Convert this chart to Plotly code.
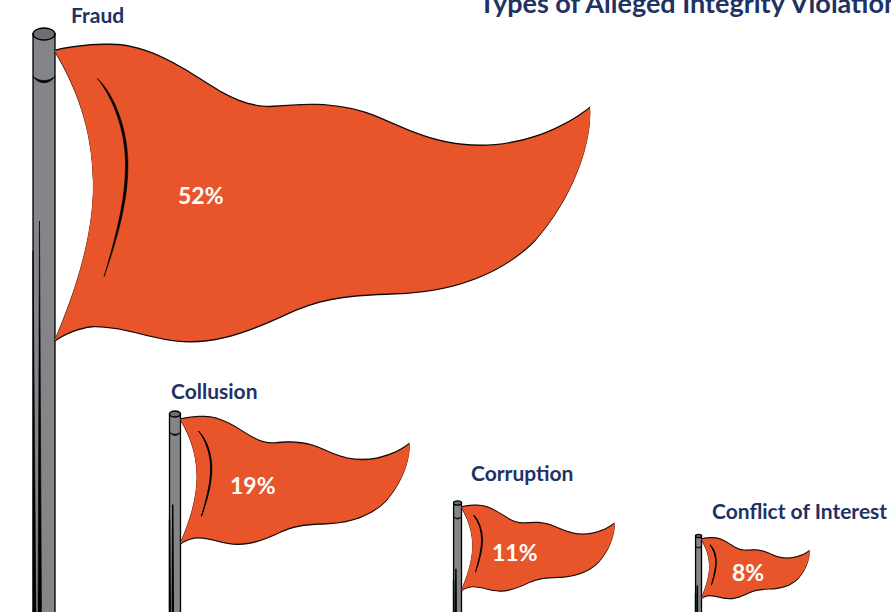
import plotly.graph_objects as go

# --- data ---
categories = ["Fraud", "Collusion", "Corruption", "Conflict of Interest"]
shares = [52, 19, 11, 8]
title_text = "Types of Alleged Integrity Violations"

# --- layout of each flag (attachment point on the pole, scales) ---
anchor_x = [55, 180.5, 461.5, 701.5]
anchor_y = [51, 419.5, 507.5, 539.5]
flag_scale = [1.0, 0.428, 0.286, 0.202]
pole_scale = [1.0, 0.50, 0.36, 0.27]
cap_offset = [17, 5.5, 4.5, 3.5]
stroke = [0.8, 0.8, 0.8, 0.8]
edge = [1.4, 1.3, 1.2, 1.2]
crease_line = [0.5, 1.0, 1.1, 1.1]
pole_dark_line = [0.6, 1.4, 1.5, 1.5]
label_x = [68.5, 168.5, 468.5, 709.5]
label_y = [14.5, 390.5, 472.5, 510.5]
pct_x = [200.5, 252.5, 514.5, 747.5]
pct_y = [194.5, 484.5, 551.5, 571.5]
pct_size = [23, 23, 23, 23]

ORANGE = "#E9552B"
NAVY = "#1F3264"
GREY = "#848588"

# glyph outline of the flag, relative to attachment point, unit = full-size flag
FLAG = [("M", [(0, 0)]),
        ("C", [(20, -5), (40, -6), (55, -6)]),
        ("C", [(95, -6), (130, 19), (165, 41)]),
        ("C", [(185, 52), (200, 57), (220, 56)]),
        ("C", [(245, 54), (275, 51), (310, 62)]),
        ("C", [(345, 74), (375, 95), (425, 95)]),
        ("C", [(470, 95), (510, 77), (535, 57)]),
        ("C", [(537, 89), (520, 144), (480, 189)]),
        ("C", [(440, 229), (385, 241), (340, 242)]),
        ("C", [(290, 244), (270, 246), (235, 261)]),
        ("C", [(200, 277), (170, 290), (135, 290)]),
        ("C", [(100, 290), (70, 274), (37, 275)]),
        ("C", [(25, 276), (10, 282), (0, 289)]),
        ("C", [(15, 254), (40, 189), (38, 129)]),
        ("C", [(37, 74), (20, 34), (0, 0)]),
        ("Z", [])]
CREASE = [("M", [(42, 27)]),
          ("C", [(60, 44), (73, 79), (73, 114)]),
          ("C", [(73, 154), (60, 194), (49, 226)]),
          ("C", [(58, 194), (70.5, 154), (70.5, 114)]),
          ("C", [(70.5, 79), (58, 47), (42, 27)]),
          ("Z", [])]
POLE_DARK = [("M", [(-15.5, 170)]),
             ("L", [(-13.5, 570)]),
             ("L", [(-17, 570)]),
             ("Z", [])]
POLE_EDGE = [("M", [(-22, 200)]),
             ("L", [(-22, 570)]),
             ("L", [(-19, 570)]),
             ("Z", [])]
BAND = [("M", [(-22, 25)]),
        ("C", [(-17, 31), (-5, 31), (0, 25)]),
        ("C", [(-5, 34), (-17, 34), (-22, 25)]),
        ("Z", [])]


def path(glyph, ax, ay, s):
    parts = []
    for cmd, pts in glyph:
        parts.append(cmd + " ".join(f"{ax + px * s:.2f},{ay + py * s:.2f}" for px, py in pts))
    return " ".join(parts)


shapes = []
annotations = []
for i, cat in enumerate(categories):
    ax, ay = anchor_x[i], anchor_y[i]
    fs, ps, w = flag_scale[i], pole_scale[i], stroke[i]
    left = ax - 22 * ps
    top = ay - cap_offset[i]
    bottom = 640
    # pole
    shapes.append(dict(type="rect", xref="x", yref="y", x0=left, x1=ax, y0=top, y1=bottom,
                       fillcolor=GREY, line=dict(color="black", width=1.3), layer="above"))
    shapes.append(dict(type="path", xref="x", yref="y", path=path(POLE_DARK, ax, ay, ps),
                       fillcolor="black", line=dict(color="black", width=pole_dark_line[i]), layer="above"))
    shapes.append(dict(type="path", xref="x", yref="y", path=path(POLE_EDGE, ax, ay, ps),
                       fillcolor="black", line=dict(color="black", width=pole_dark_line[i]), layer="above"))
    shapes.append(dict(type="path", xref="x", yref="y", path=path(BAND, ax, ay, ps),
                       fillcolor="black", line=dict(color="black", width=0.6), layer="above"))
    shapes.append(dict(type="circle", xref="x", yref="y", x0=left, x1=ax,
                       y0=top - 6 * ps, y1=top + 6 * ps,
                       fillcolor="#6D6E71", line=dict(color="black", width=1.4), layer="above"))
    # flag: black copies nudged up and down give the uneven ink line
    for dy in (-edge[i], edge[i]):
        shapes.append(dict(type="path", xref="x", yref="y", path=path(FLAG, ax, ay + dy, fs),
                           fillcolor="black", line=dict(width=0), layer="above"))
    shapes.append(dict(type="path", xref="x", yref="y", path=path(FLAG, ax, ay, fs),
                       fillcolor=ORANGE, line=dict(color=ORANGE, width=0.3), layer="above"))
    shapes.append(dict(type="path", xref="x", yref="y", path=path(CREASE, ax, ay, fs),
                       fillcolor="black", line=dict(color="black", width=crease_line[i]), layer="above"))
    annotations.append(dict(x=label_x[i], y=label_y[i], text=f"<b>{cat}</b>", xref="x", yref="y",
                            xanchor="left", yanchor="middle", showarrow=False,
                            font=dict(family="Lato", size=21, color=NAVY)))
    annotations.append(dict(x=pct_x[i], y=pct_y[i], text=f"<b>{shares[i]}%</b>", xref="x", yref="y",
                            xanchor="center", yanchor="middle", showarrow=False,
                            font=dict(family="Lato", size=pct_size[i], color="white")))

annotations.append(dict(x=477, y=2, text=f"<b>{title_text}</b>", xref="x", yref="y",
                        xanchor="left", yanchor="middle", showarrow=False,
                        font=dict(family="Lato", size=27, color=NAVY)))

fig = go.Figure()
fig.update_layout(width=891, height=612, margin=dict(l=0, r=0, t=0, b=0),
                  paper_bgcolor="white", plot_bgcolor="white", showlegend=False,
                  xaxis=dict(range=[0, 891], visible=False, fixedrange=True),
                  yaxis=dict(range=[612, 0], visible=False, fixedrange=True),
                  shapes=shapes, annotations=annotations)
fig.write_html("out.html", config={"displayModeBar": False},
               post_script="document.body.style.margin='0';document.body.style.overflow='hidden';")
